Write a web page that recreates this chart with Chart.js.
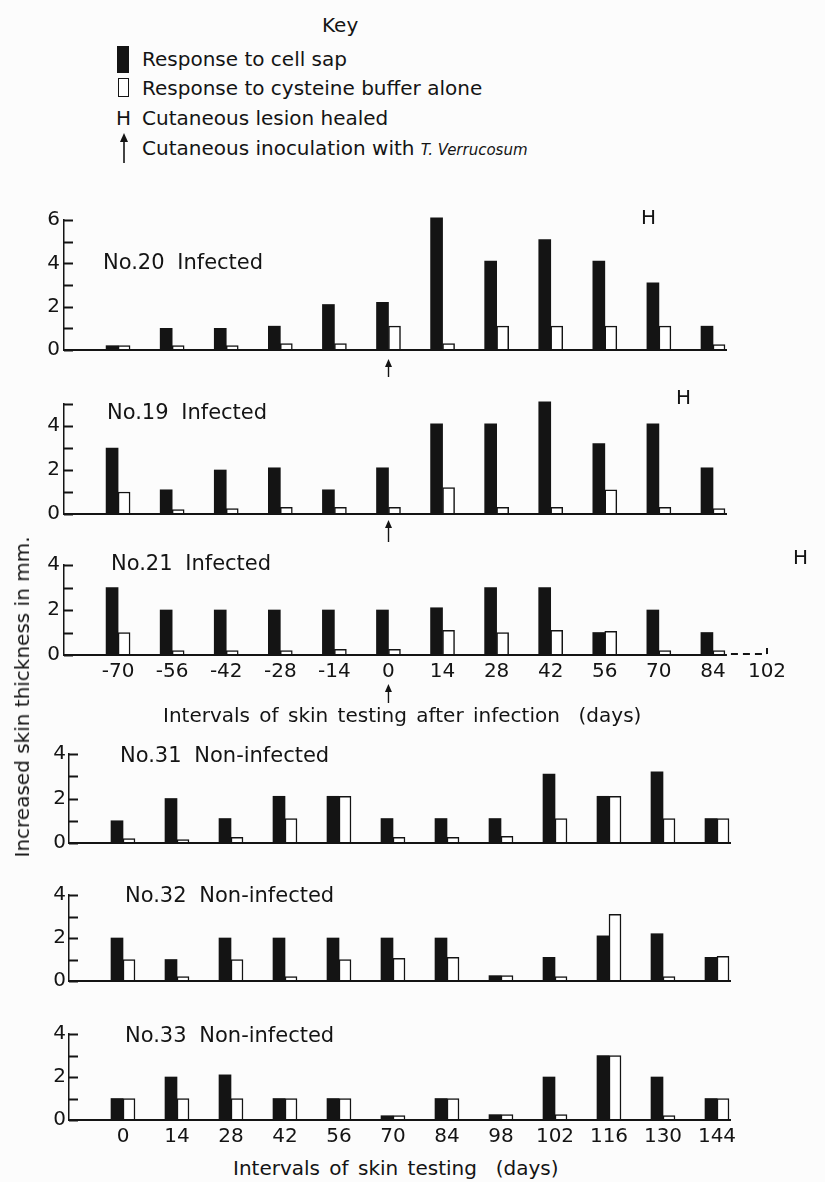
<!DOCTYPE html>
<html lang="en">
<head>
<meta charset="UTF-8">
<title>Skin test responses</title>
<script src="https://cdn.jsdelivr.net/npm/chart.js"></script>
<style>
  body { margin: 0; background: #fcfcfc; font-family: "DejaVu Sans", sans-serif; color: #141414; }
  #page { position: relative; width: 825px; height: 1182px; overflow: hidden; }
  canvas { position: absolute; left: 0; }
  .t { position: absolute; white-space: nowrap; font-size: 20px; line-height: 20px; }
  .lbl { font-size: 21px; line-height: 21px; word-spacing: 6px; }
  .sym { position: absolute; box-sizing: border-box; }
</style>
</head>
<body>
<div id="page">
  <canvas id="c20" width="825" height="176" style="top:204px"></canvas>
  <canvas id="c19" width="825" height="156" style="top:388px"></canvas>
  <canvas id="c21" width="825" height="158" style="top:549px"></canvas>
  <canvas id="c31" width="825" height="134" style="top:739px"></canvas>
  <canvas id="c32" width="825" height="131" style="top:880px"></canvas>
  <canvas id="c33" width="825" height="135" style="top:1019px"></canvas>

  <!-- key -->
  <div class="t" style="left:322px;top:15px">Key</div>
  <div class="sym" style="left:117px;top:46px;width:12px;height:27px;background:#141414"></div>
  <div class="sym" style="left:118px;top:78px;width:11px;height:19px;border:1.5px solid #141414;background:#fff"></div>
  <div class="t" style="left:116px;top:108px">H</div>
  <svg class="sym" style="left:116px;top:132px" width="16" height="32" viewBox="0 0 16 32">
    <polygon points="8,1 4,10 12,10" fill="#141414"/>
    <line x1="8" y1="6" x2="8" y2="31" stroke="#141414" stroke-width="1.6"/>
  </svg>
  <div class="t" style="left:142px;top:49px">Response to cell sap</div>
  <div class="t" style="left:142px;top:78px">Response to cysteine buffer alone</div>
  <div class="t" style="left:142px;top:108px">Cutaneous lesion healed</div>
  <div class="t" style="left:142px;top:138px">Cutaneous inoculation with <i style="font-size:15px">T. Verrucosum</i></div>

  <!-- panel labels -->
  <div class="t lbl" style="left:103px;top:252px">No.20 Infected</div>
  <div class="t lbl" style="left:107px;top:402px">No.19 Infected</div>
  <div class="t lbl" style="left:111px;top:553px">No.21 Infected</div>
  <div class="t lbl" style="left:120px;top:745px">No.31 Non-infected</div>
  <div class="t lbl" style="left:125px;top:885px">No.32 Non-infected</div>
  <div class="t lbl" style="left:125px;top:1025px">No.33 Non-infected</div>

  <!-- healed markers -->
  <div class="t" style="left:641px;top:207px">H</div>
  <div class="t" style="left:676px;top:387px">H</div>
  <div class="t" style="left:793px;top:547px">H</div>

  <!-- axis titles -->
  <div class="t" style="left:163px;top:705px;word-spacing:3px">Intervals of skin testing after infection &nbsp;(days)</div>
  <div class="t" style="left:233px;top:1158px;word-spacing:3px">Intervals of skin testing &nbsp;(days)</div>
  <div class="t" style="left:22px;top:697px;transform:translate(-50%,-50%) rotate(-90deg)">Increased skin thickness in mm.</div>
</div>

<script>
  // x categories (days)
  const daysInfected = ['-70', '-56', '-42', '-28', '-14', '0', '14', '28', '42', '56', '70', '84'];
  const daysNo21 = ['-70', '-56', '-42', '-28', '-14', '0', '14', '28', '42', '56', '70', '84', '102'];
  const daysNonInfected = ['0', '14', '28', '42', '56', '70', '84', '98', '102', '116', '130', '144'];

  // increased skin thickness, mm
  const sap20 = [0.2, 1.0, 1.0, 1.1, 2.1, 2.2, 6.1, 4.1, 5.1, 4.1, 3.1, 1.1];
  const buffer20 = [0.2, 0.2, 0.2, 0.3, 0.3, 1.1, 0.3, 1.1, 1.1, 1.1, 1.1, 0.25];
  const sap19 = [3.0, 1.1, 2.0, 2.1, 1.1, 2.1, 4.1, 4.1, 5.1, 3.2, 4.1, 2.1];
  const buffer19 = [1.0, 0.2, 0.25, 0.3, 0.3, 0.3, 1.2, 0.3, 0.3, 1.1, 0.3, 0.25];
  const sap21 = [3.0, 2.0, 2.0, 2.0, 2.0, 2.0, 2.1, 3.0, 3.0, 1.0, 2.0, 1.0, null];
  const buffer21 = [1.0, 0.2, 0.2, 0.2, 0.25, 0.25, 1.1, 1.0, 1.1, 1.05, 0.2, 0.2, null];
  const sap31 = [1.0, 2.0, 1.1, 2.1, 2.1, 1.1, 1.1, 1.1, 3.1, 2.1, 3.2, 1.1];
  const buffer31 = [0.2, 0.15, 0.25, 1.1, 2.1, 0.25, 0.25, 0.3, 1.1, 2.1, 1.1, 1.1];
  const sap32 = [2.0, 1.0, 2.0, 2.0, 2.0, 2.0, 2.0, 0.25, 1.1, 2.1, 2.2, 1.1];
  const buffer32 = [1.0, 0.2, 1.0, 0.2, 1.0, 1.05, 1.1, 0.25, 0.2, 3.1, 0.2, 1.15];
  const sap33 = [1.0, 2.0, 2.1, 1.0, 1.0, 0.2, 1.0, 0.25, 2.0, 3.0, 2.0, 1.0];
  const buffer33 = [1.0, 1.0, 1.0, 1.0, 1.0, 0.2, 1.0, 0.25, 0.25, 3.0, 0.2, 1.0];

  const ink = '#141414';
  const font = { family: 'DejaVu Sans', size: 20 };
  const barW = 12;

  function line(ctx, x1, y1, x2, y2) {
    ctx.beginPath(); ctx.moveTo(x1, y1); ctx.lineTo(x2, y2); ctx.stroke();
  }

  // inward y ticks, baseline, dashed extension and inoculation arrow
  const marks = {
    id: 'marks',
    afterDraw(chart, args, o) {
      const ctx = chart.ctx, x = chart.scales.x, y = chart.scales.y, a = chart.chartArea;
      ctx.save();
      ctx.strokeStyle = ink; ctx.fillStyle = ink; ctx.lineWidth = 2;
      for (let v = 0; v <= y.max; v++) {
        const py = Math.round(y.getPixelForValue(v)) + 0.5;
        line(ctx, a.left, py, a.left + 9, py);
      }
      const end = x.getPixelForValue(o.lastBar) + barW + 2;
      line(ctx, a.left, a.bottom, end, a.bottom);
      if (o.dashTo != null) {
        const xd = x.getPixelForValue(o.dashTo);
        ctx.setLineDash([7, 5]);
        line(ctx, end + 4, a.bottom - 1, xd, a.bottom - 1);
        ctx.setLineDash([]);
        line(ctx, xd, a.bottom - 1, xd, a.bottom - 7);
      }
      if (o.arrowAt != null) {
        const xa = x.getPixelForValue(o.arrowAt);
        const y0 = a.bottom + o.arrowTop, y1 = y0 + o.arrowLen;
        ctx.lineWidth = 1.4;
        line(ctx, xa, y0 + 3, xa, y1);
        ctx.beginPath();
        ctx.moveTo(xa, y0); ctx.lineTo(xa - 3.5, y0 + 8); ctx.lineTo(xa + 3.5, y0 + 8);
        ctx.closePath(); ctx.fill();
      }
      ctx.restore();
    }
  };

  function panel(id, days, sap, buffer, yMax, p) {
    const labels = [''].concat(days);
    new Chart(document.getElementById(id), {
      type: 'bar',
      data: {
        labels: labels,
        datasets: [
          { label: 'Response to cell sap', data: [null].concat(sap),
            backgroundColor: ink, borderColor: ink, borderWidth: 0 },
          { label: 'Response to cysteine buffer alone', data: [null].concat(buffer),
            backgroundColor: '#ffffff', borderColor: ink, borderWidth: 1.5 }
        ]
      },
      options: {
        responsive: false,
        animation: false,
        layout: { padding: { top: 14, right: p.right, bottom: p.bottom, left: 0 } },
        datasets: { bar: { barThickness: barW, clip: false } },
        plugins: {
          legend: { display: false },
          tooltip: { enabled: false },
          marks: { lastBar: p.lastBar, dashTo: p.dashTo, arrowAt: p.arrowAt,
                   arrowTop: p.arrowTop, arrowLen: p.arrowLen }
        },
        scales: {
          x: {
            offset: false,
            grid: { display: false, drawTicks: false },
            border: { display: false },
            ticks: { display: p.showX, autoSkip: false, maxRotation: 0, padding: 5, color: ink, font: font },
            afterFit: s => { s.height = p.xh; }
          },
          y: {
            min: 0, max: yMax,
            grid: { display: false, drawTicks: false },
            border: { display: true, color: ink, width: 1.5 },
            ticks: { stepSize: 1, padding: p.yPad, color: ink, font: font,
                     callback: v => (v % 2 === 0 ? v : '') },
            afterFit: s => { s.width = p.yw; }
          }
        }
      },
      plugins: [marks]
    });
  }

  panel('c20', daysInfected, sap20, buffer20, 6,
        { yw: 64, yPad: 4, right: 112, bottom: 30, xh: 0, showX: false, lastBar: 12, arrowAt: 6, arrowTop: 9, arrowLen: 18 });
  panel('c19', daysInfected, sap19, buffer19, 5,
        { yw: 64, yPad: 4, right: 112, bottom: 30, xh: 0, showX: false, lastBar: 12, arrowAt: 6, arrowTop: 6, arrowLen: 22 });
  panel('c21', daysNo21, sap21, buffer21, 4,
        { yw: 64, yPad: 4, right: 58, bottom: 4, xh: 48, showX: true, lastBar: 12, dashTo: 13, arrowAt: 6, arrowTop: 29, arrowLen: 19 });
  panel('c31', daysNonInfected, sap31, buffer31, 4,
        { yw: 69, yPad: 3, right: 108, bottom: 30, xh: 0, showX: false, lastBar: 12 });
  panel('c32', daysNonInfected, sap32, buffer32, 4,
        { yw: 69, yPad: 3, right: 108, bottom: 30, xh: 0, showX: false, lastBar: 12 });
  panel('c33', daysNonInfected, sap33, buffer33, 4,
        { yw: 69, yPad: 3, right: 108, bottom: 4, xh: 30, showX: true, lastBar: 12 });
</script>
</body>
</html>
